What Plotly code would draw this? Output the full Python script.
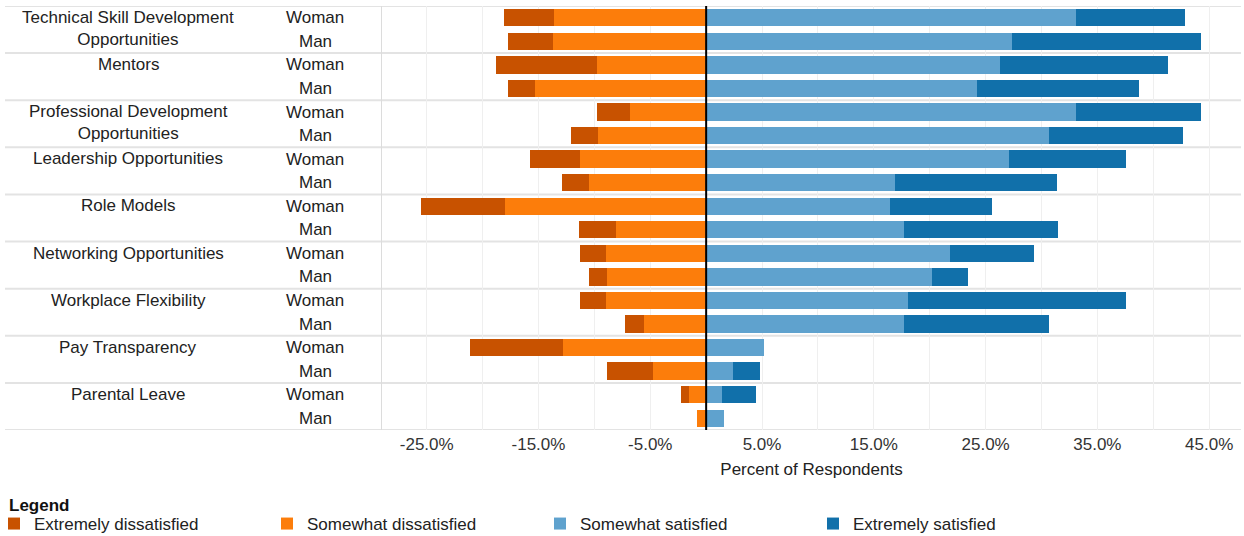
import plotly.graph_objects as go

# ---------------- data ----------------
categories = [
    "Technical Skill Development<br>Opportunities",
    "Mentors",
    "Professional Development<br>Opportunities",
    "Leadership Opportunities",
    "Role Models",
    "Networking Opportunities",
    "Workplace Flexibility",
    "Pay Transparency",
    "Parental Leave",
]
genders = ["Woman", "Man"]

# values per category, [Woman, Man], in percent of respondents
extremely_dissatisfied = [
    [4.5, 4.05], [9.0, 2.45], [3.0, 2.35], [4.5, 2.4], [7.55, 3.3],
    [2.25, 1.6], [2.25, 1.65], [8.25, 4.05], [0.75, 0.0],
]
somewhat_dissatisfied = [
    [13.6, 13.7], [9.8, 15.3], [6.8, 9.7], [11.3, 10.5], [18.0, 8.1],
    [9.0, 8.9], [9.0, 5.6], [12.85, 4.8], [1.5, 0.8],
]
somewhat_satisfied = [
    [33.1, 27.4], [26.3, 24.2], [33.1, 30.65], [27.05, 16.9], [16.45, 17.7],
    [21.8, 20.2], [18.1, 17.7], [5.2, 2.4], [1.45, 1.6],
]
extremely_satisfied = [
    [9.7, 16.9], [15.05, 14.5], [11.2, 12.05], [10.5, 14.5], [9.1, 13.75],
    [7.5, 3.2], [19.5, 12.95], [0.0, 2.4], [3.05, 0.0],
]

tick_values = [-25, -20, -15, -10, -5, 0, 5, 10, 15, 20, 25, 30, 35, 40, 45]
tick_labels = ["-25.0%", "", "-15.0%", "", "-5.0%", "", "5.0%", "", "15.0%", "",
               "25.0%", "", "35.0%", "", "45.0%"]

# ---------------- layout constants ----------------
FIG_W, FIG_H = 1244, 536
L, R, T, B = 382, 3, 6, 106
PW = FIG_W - L - R
PH = FIG_H - T - B
FONT = "Liberation Sans, Arial, sans-serif"
TXT = "#222222"


def xp(px):
    return (px - L) / PW


def yp(py):
    return (FIG_H - B - py) / PH


def flat(nested):
    return [v for pair in nested for v in pair]


n_rows = len(categories) * len(genders)
rows = list(range(n_rows))

series = [
    ("Somewhat dissatisfied", somewhat_dissatisfied, "#FC7D0B", -1, 2),
    ("Extremely dissatisfied", extremely_dissatisfied, "#C85200", -1, 1),
    ("Somewhat satisfied", somewhat_satisfied, "#5FA2CE", 1, 3),
    ("Extremely satisfied", extremely_satisfied, "#1170AA", 1, 4),
]

fig = go.Figure()
for name, vals, color, sign, rank in series:
    fig.add_trace(go.Bar(
        y=rows,
        x=[sign * v for v in flat(vals)],
        orientation="h",
        name=name,
        legendrank=rank,
        width=0.74,
        marker=dict(color=color, line=dict(width=0)),
        hovertemplate="%{x:.1f}%<extra>" + name + "</extra>",
    ))

annotations = []
for i, cat in enumerate(categories):
    annotations.append(dict(
        x=xp(128), xref="paper", xanchor="center",
        y=2 * i - 0.5, yref="y", yanchor="top",
        text=cat, showarrow=False, align="center",
        font=dict(size=17, color=TXT, family=FONT),
    ))
    for j, g in enumerate(genders):
        annotations.append(dict(
            x=xp(315), xref="paper", xanchor="center",
            y=2 * i + j, yref="y", yanchor="middle",
            text=g, showarrow=False,
            font=dict(size=17, color=TXT, family=FONT),
        ))

# legend heading
annotations.append(dict(
    x=xp(7), xref="paper", xanchor="left",
    y=yp(505), yref="paper", yanchor="middle",
    text="<b>Legend</b>", showarrow=False,
    font=dict(size=17, color="#111111", family=FONT),
))

shapes = []
# category separators (including top and bottom borders)
for k in range(len(categories) + 1):
    shapes.append(dict(
        type="line", xref="paper", yref="y",
        x0=xp(5), x1=1.0, y0=2 * k - 0.5, y1=2 * k - 0.5,
        line=dict(color="#e3e3e3", width=2), layer="below",
    ))
# zero reference line
shapes.append(dict(
    type="line", xref="x", yref="paper", x0=0, x1=0, y0=0, y1=1,
    line=dict(color="#000000", width=2), layer="above",
))

fig.update_layout(
    width=FIG_W, height=FIG_H,
    margin=dict(l=L, r=R, t=T, b=B, autoexpand=False),
    paper_bgcolor="white", plot_bgcolor="white",
    barmode="relative",
    bargap=0,
    font=dict(family=FONT, size=17, color=TXT),
    xaxis=dict(
        range=[-29.0, 47.85],
        tickmode="array", tickvals=tick_values, ticktext=tick_labels,
        showgrid=True, gridcolor="#efefef", gridwidth=1,
        zeroline=False, showline=False, ticks="",
        ticklabelstandoff=2,
        tickfont=dict(size=17, color="#333333", family=FONT),
        title=dict(text="Percent of Respondents", standoff=10,
                   font=dict(size=17, color=TXT, family=FONT)),
        fixedrange=True,
    ),
    yaxis=dict(
        range=[n_rows - 0.5, -0.5],
        showticklabels=False, showgrid=False, zeroline=False,
        showline=True, linecolor="#dcdcdc", linewidth=1,
        fixedrange=True,
    ),
    legend=dict(
        orientation="h",
        x=xp(-6), xanchor="left",
        y=yp(506), yanchor="top",
        font=dict(size=17, color=TXT, family=FONT),
        entrywidth=228, entrywidthmode="pixels",
        traceorder="normal",
        bgcolor="rgba(0,0,0,0)",
        itemclick=False, itemdoubleclick=False,
    ),
    annotations=annotations,
    shapes=shapes,
    showlegend=True,
)

fig.write_html("out.html", config={"displayModeBar": False})
